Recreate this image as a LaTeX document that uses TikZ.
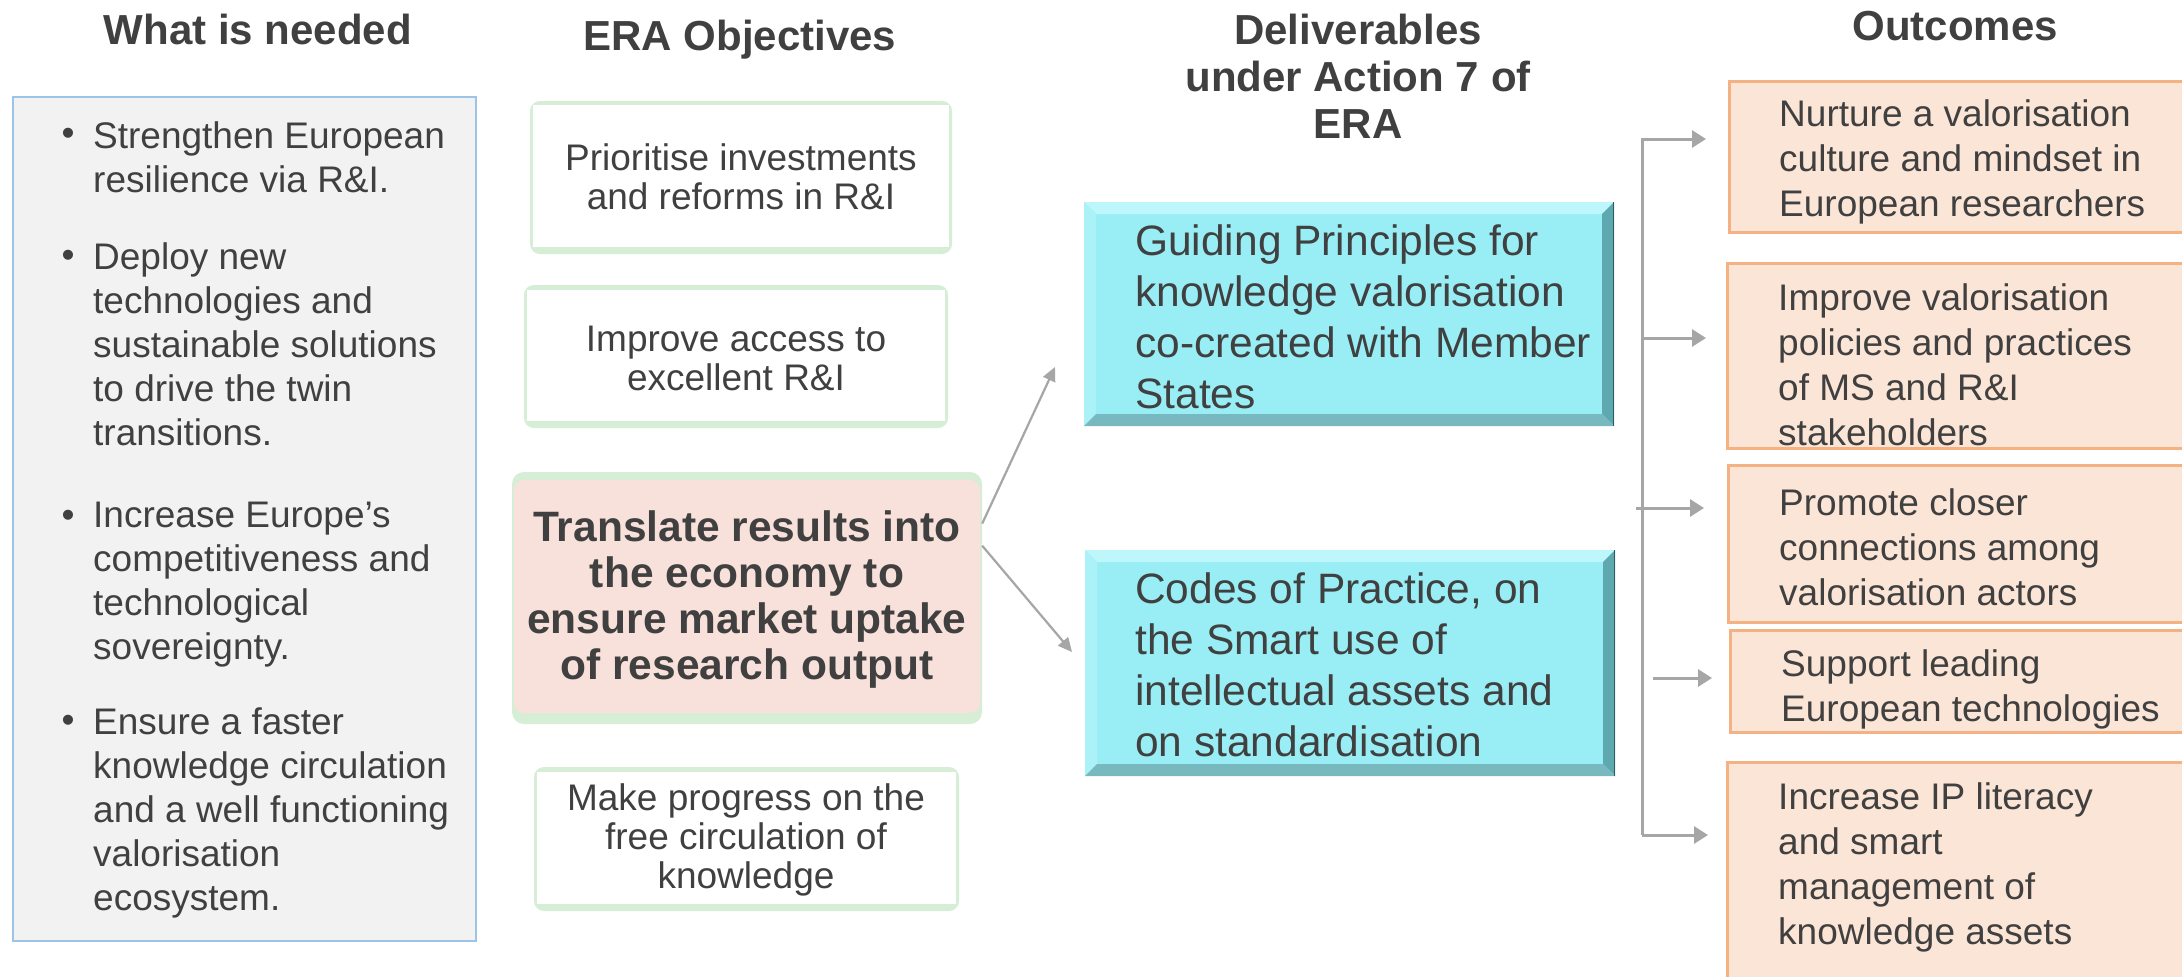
\documentclass[tikz,border=0pt]{standalone}
\usepackage{fontspec}
\setmainfont{Liberation Sans}
\usetikzlibrary{arrows.meta,calc}
\definecolor{txt}{HTML}{404040}
\definecolor{leftfill}{HTML}{F2F2F2}
\definecolor{leftline}{HTML}{9DC3E6}
\definecolor{objgreen}{HTML}{D6EDD6}
\definecolor{pinkfill}{HTML}{F8E1DA}
\definecolor{cyanmain}{HTML}{99EEF5}
\definecolor{cyantop}{HTML}{BDF7FB}
\definecolor{cyanleft}{HTML}{ABF2F8}
\definecolor{cyanright}{HTML}{5EA8AF}
\definecolor{cyanbot}{HTML}{78B9BF}
\definecolor{cyanedge}{HTML}{2F5C61}
\definecolor{outfill}{HTML}{FBE5D6}
\definecolor{outline}{HTML}{F4B183}
\definecolor{arrgray}{HTML}{A6A6A6}
\newcommand\bevelbox[4]{%
  \fill[cyanmain] (#1,#2) rectangle (#3,#4);
  \fill[cyantop] (#1,#2) -- (#3,#2) -- ({#3-12},{#2+12}) -- ({#1+12},{#2+12}) -- cycle;
  \fill[cyanleft] (#1,#2) -- ({#1+12},{#2+12}) -- ({#1+12},{#4-12}) -- (#1,#4) -- cycle;
  \fill[cyanright] (#3,#2) -- ({#3-12},{#2+12}) -- ({#3-12},{#4-12}) -- (#3,#4) -- cycle;
  \fill[cyanbot] (#1,#4) -- ({#1+12},{#4-12}) -- ({#3-12},{#4-12}) -- (#3,#4) -- cycle;
  \draw[cyanedge,line width=1.5pt] ({#3-0.75},#2) -- ({#3-0.75},#4);
}
\begin{document}
\begin{tikzpicture}[x=1pt,y=-1pt,
  title/.style={font=\fontsize{42}{47}\selectfont\bfseries, text=txt, align=center, inner sep=0},
  bodytxt/.style={font=\fontsize{37}{44}\selectfont, text=txt, align=left, inner sep=0, anchor=west},
  bul/.style={font=\fontsize{37}{44}\selectfont, text=txt, inner sep=0},
  objtxt/.style={font=\fontsize{37}{39}\selectfont, text=txt, align=center, inner sep=0},
  boldtxt/.style={font=\fontsize{42.5}{46}\selectfont\bfseries, text=txt, align=center, inner sep=0},
  deltxt/.style={font=\fontsize{42.5}{51}\selectfont, text=txt, align=left, inner sep=0, anchor=west},
  outtxt/.style={font=\fontsize{37}{45}\selectfont, text=txt, align=left, inner sep=0, anchor=west},
  outbox/.style={fill=outfill, draw=outline, line width=3pt},
  diag/.style={draw=arrgray, line width=2.2pt, -{Triangle[length=14pt,width=13pt]}},
  arr/.style={draw=arrgray, line width=3pt, -{Triangle[length=14pt,width=17pt]}},
]
\clip (0,0) rectangle (2182,977);
\fill[white] (0,0) rectangle (2182,977);

% ---- titles
\node[title] (h1) at (258,29) {What is needed};
\node[title] (h2) at (740,40) {ERA Objectives};
\node[title] (h3) at (1358,76) {Deliverables\\under Action 7 of\\ERA};
\node[title] (h4) at (1955,26) {Outcomes};

% ---- left box
\draw[fill=leftfill, draw=leftline, line width=2pt] (13,97) rectangle (476,941);
\node[bul] (b1) at (68,137) {•};
\node[bodytxt] (w1) at (93,157) {Strengthen European\\resilience via R\&I.};
\node[bul] (b2) at (68,259) {•};
\node[bodytxt] (w2) at (93,344) {Deploy new\\technologies and\\sustainable solutions\\to drive the twin\\transitions.};
\node[bul] (b3) at (68,519) {•};
\node[bodytxt] (w3) at (93,585) {Increase Europe’s\\competitiveness and\\technological\\sovereignty.};
\node[bul] (b4) at (68,724) {•};
\node[bodytxt] (w4) at (93,813) {Ensure a faster\\knowledge circulation\\and a well functioning\\valorisation\\ecosystem.};

% ---- ERA objectives
\fill[objgreen, rounded corners=10pt] (530,101) rectangle (952,254);
\fill[white] (533,105) rectangle (949,247);
\node[objtxt, minimum width=422, minimum height=153] (o1) at (741,177) {Prioritise investments\\and reforms in R\&I};

\fill[objgreen, rounded corners=10pt] (524,285) rectangle (948,428);
\fill[white] (527,290) rectangle (945,421);
\node[objtxt, minimum width=424, minimum height=143] (o2) at (736,358) {Improve access to\\excellent R\&I};

\fill[objgreen, rounded corners=12pt] (512,472) rectangle (982,724);
\fill[pinkfill, rounded corners=10pt] (514,480) rectangle (980,713);
\node[boldtxt, minimum width=470, minimum height=252] (o3) at (747,600) {Translate results into\\the economy to\\ensure market uptake\\of research output};

\fill[objgreen, rounded corners=10pt] (534,767) rectangle (959,911);
\fill[white] (537,772) rectangle (956,904);
\node[objtxt, minimum width=425, minimum height=144] (o4) at (746,840) {Make progress on the\\free circulation of\\knowledge};

% ---- deliverables
\bevelbox{1084}{202}{1614}{426}
\node[deltxt] (d1) at (1135,317) {Guiding Principles for\\knowledge valorisation\\co-created with Member\\States};
\bevelbox{1085}{550}{1615}{776}
\node[deltxt] (d2) at (1135,665) {Codes of Practice, on\\the Smart use of\\intellectual assets and\\on standardisation};

\coordinate (t1) at (1055,367);
\coordinate (t2) at (1072,652);
\draw[diag] (o3.18) -- (t1);
\draw[diag] (o3.13) -- (t2);

% ---- outcomes
\draw[outbox] (1729,81) rectangle (2200,232);
\node[outtxt] (c1) at (1779,162) {Nurture a valorisation\\culture and mindset in\\European researchers};
\draw[outbox] (1727,263) rectangle (2200,448);
\node[outtxt] (c2) at (1778,365) {Improve valorisation\\policies and practices\\of MS and R\&I\\stakeholders};
\draw[outbox] (1728,465) rectangle (2200,622);
\node[outtxt] (c3) at (1779,547) {Promote closer\\connections among\\valorisation actors};
\draw[outbox] (1730,630) rectangle (2200,732);
\node[outtxt] (c4) at (1781,689) {Support leading\\European technologies};
\draw[outbox] (1727,762) rectangle (2200,1000);
\node[outtxt] (c5) at (1778,867) {Increase IP literacy\\and smart\\management of\\knowledge assets};

% ---- bus and arrows
\coordinate (bus5) at (1642,835);
\coordinate (bus2) at (1642,338);
\coordinate (bus3) at (1636,508);
\coordinate (bus4) at (1653,678);
\coordinate (a1) at (1706,139);
\coordinate (a2) at (1706,338);
\coordinate (a3) at (1704,508);
\coordinate (a4) at (1712,678);
\coordinate (a5) at (1708,835);
\draw[arr] (bus5) |- (a1);
\draw[arr] (bus2) -- (a2);
\draw[arr] (bus3) -- (a3);
\draw[arr] (bus4) -- (a4);
\draw[arr] (bus5) -- (a5);
\end{tikzpicture}
\end{document}
